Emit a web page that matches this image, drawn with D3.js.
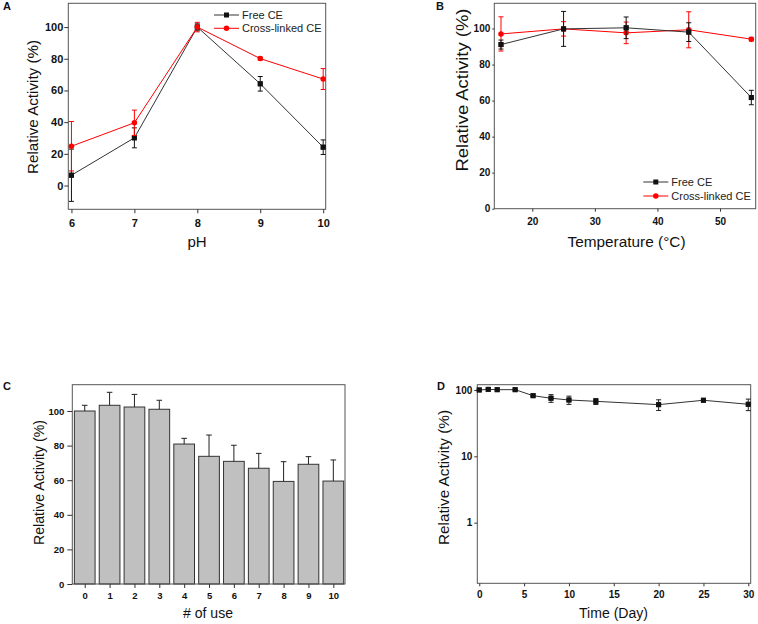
<!DOCTYPE html>
<html><head><meta charset="utf-8">
<script src="https://cdn.jsdelivr.net/npm/d3@7"></script>
<style>
html,body{margin:0;padding:0;background:#fff;}
svg{display:block;font-family:"Liberation Sans",Arial,sans-serif;}
</style></head>
<body>
<svg id="c" width="758" height="624"></svg>
<script>
// ---- Data ----
const pHs = [6, 7, 8, 9, 10];
const freePH = [6.5, 30.1, 100, 64.2, 24.2];
const freePHErr = [16.5, 6.3, 2, 4.6, 4.6];
const xlPH = [24.8, 39.6, 100, 80.1, 67.2];
const xlPHErr = [15.6, 8, 3, 1, 6.6];

const temps = [15, 25, 35, 45, 55];
const freeT = [91.1, 99.8, 100.4, 98, 61.7];
const freeTErr = [2.5, 9.7, 6, 5.2, 4];
const xlT = [97, 99.8, 97.6, 99.3, 94.1];
const xlTErr = [9.5, 4, 6, 10, 1];

const uses = [0, 1, 2, 3, 4, 5, 6, 7, 8, 9, 10];
const reuse = [100, 103.3, 102.3, 101, 80.9, 73.8, 70.9, 66.9, 59.3, 69.2, 59.5];
const reuseErr = [3.3, 7.5, 7.3, 5.2, 3.3, 12.3, 9.3, 8.6, 11.4, 4.4, 12.2];

const days = [0, 1, 2, 4, 6, 8, 10, 13, 20, 25, 30];
const storage = [100, 102, 101, 101, 82, 75, 70.6, 67.4, 60.1, 69.9, 60.8];
const storageErr = [1, 1, 1, 1, 2, 10, 10, 7, 11, 2, 12];

const seriesNames = ["Free CE", "Cross-linked CE"];
const yTicksLin = [0, 20, 40, 60, 80, 100];
const yTicksLog = [1, 10, 100];

const svg = d3.select("#c");
const FONT = '"Liberation Sans",Arial,sans-serif';
const FRAME = "#555";
const RED = "#ff0000";
const BLK = "#111";

function frame(g, x0, y0, x1, y1) {
  g.append("rect").attr("x", x0).attr("y", y0).attr("width", x1 - x0).attr("height", y1 - y0)
    .attr("fill", "none").attr("stroke", FRAME).attr("stroke-width", 1);
}
function styleAxis(sel, fs) {
  sel.select(".domain").remove();
  sel.selectAll(".tick line").attr("stroke", "#333");
  sel.selectAll(".tick text").attr("font-family", FONT).attr("font-weight", "bold")
    .attr("font-size", fs).attr("fill", "#111");
}
function errBars(g, xs, ys, es, x, y, color, cap, upperOnly) {
  xs.forEach((xv, i) => {
    const lo = upperOnly ? ys[i] : ys[i] - es[i];
    const hi = ys[i] + es[i];
    const cx = x(xv);
    g.append("line").attr("x1", cx).attr("x2", cx).attr("y1", y(lo)).attr("y2", y(hi))
      .attr("stroke", color).attr("stroke-width", 1);
    g.append("line").attr("x1", cx - cap).attr("x2", cx + cap).attr("y1", y(hi)).attr("y2", y(hi))
      .attr("stroke", color).attr("stroke-width", 1);
    if (!upperOnly) g.append("line").attr("x1", cx - cap).attr("x2", cx + cap).attr("y1", y(lo)).attr("y2", y(lo))
      .attr("stroke", color).attr("stroke-width", 1);
  });
}
function series(g, xs, ys, x, y, color, shape, sz) {
  const line = d3.line().x((d, i) => x(xs[i])).y(d => y(d));
  g.append("path").datum(ys).attr("d", line).attr("fill", "none").attr("stroke", color).attr("stroke-width", 1);
  marker(g, xs.map(x), ys.map(y), color, shape, sz);
}
function marker(g, px, py, color, shape, sz) {
  px.forEach((cx, i) => {
    if (shape === "sq") g.append("rect").attr("x", cx - sz / 2).attr("y", py[i] - sz / 2)
      .attr("width", sz).attr("height", sz).attr("fill", color);
    else g.append("circle").attr("cx", cx).attr("cy", py[i]).attr("r", sz / 2).attr("fill", color);
  });
}
function label(txt, x, y, fs, opts = {}) {
  const t = svg.append("text").attr("x", x).attr("y", y).attr("font-family", FONT)
    .attr("font-size", fs).attr("fill", "#111").text(txt);
  if (opts.bold) t.attr("font-weight", "bold");
  if (opts.anchor) t.attr("text-anchor", opts.anchor);
  if (opts.rot) t.attr("transform", `rotate(-90,${x},${y})`);
  if (opts.len) t.attr("textLength", opts.len).attr("lengthAdjust", "spacingAndGlyphs");
  return t;
}
function legend(g, x0, y0, dy, fs) {
  [[BLK, "sq"], [RED, "ci"]].forEach((s, i) => {
    const yy = y0 + i * dy;
    g.append("line").attr("x1", x0).attr("x2", x0 + 25).attr("y1", yy).attr("y2", yy)
      .attr("stroke", s[0] === BLK ? "#333" : RED).attr("stroke-width", 1);
    marker(g, [x0 + 12.5], [yy], s[0], s[1], s[1] === "sq" ? 5 : 5.5);
    g.append("text").attr("x", x0 + 28).attr("y", yy + 4).attr("font-family", FONT)
      .attr("font-size", fs).attr("fill", "#222").text(seriesNames[i]);
  });
}

// ---- Panel A ----
{
  const L = 68.3, R = 325.7, T = 3.3, B = 209.3;
  const x = d3.scaleLinear().domain([5.95, 10.04]).range([L, R]);
  const y = d3.scaleLinear().domain([-15, 115]).range([B, T]);
  const g = svg.append("g");
  frame(g, L, T, R, B);
  styleAxis(g.append("g").attr("transform", `translate(0,${B})`)
    .call(d3.axisBottom(x).tickValues(pHs).tickFormat(d3.format("d")).tickSize(4).tickPadding(6)), 11);
  styleAxis(g.append("g").attr("transform", `translate(${L},0)`)
    .call(d3.axisLeft(y).tickValues(yTicksLin).tickSize(4).tickPadding(1)), 11);
  errBars(g, pHs, freePH, freePHErr, x, y, BLK, 2.5);
  series(g, pHs, freePH, x, y, "#333", "sq", 5);
  marker(g, pHs.map(x), freePH.map(y), BLK, "sq", 5);
  errBars(g, pHs, xlPH, xlPHErr, x, y, RED, 2.5);
  series(g, pHs, xlPH, x, y, RED, "ci", 5.5);
  legend(g, 214, 15, 13.3, 11);
  label("A", 3, 10, 11, { bold: true });
  label("Relative Activity (%)", 38, 107, 15, { anchor: "middle", rot: true, len: 134 });
  label("pH", 197, 247, 15, { anchor: "middle" });
}

// ---- Panel B ----
{
  const L = 494.3, R = 755.7, T = 3.3, B = 208.7;
  const x = d3.scaleLinear().domain([13.93, 55.7]).range([L, R]);
  const y = d3.scaleLinear().domain([0, 114]).range([B, T]);
  const g = svg.append("g");
  frame(g, L, T, R, B);
  styleAxis(g.append("g").attr("transform", `translate(0,${B})`)
    .call(d3.axisBottom(x).tickValues([20, 30, 40, 50]).tickSize(3).tickPadding(6)), 10);
  styleAxis(g.append("g").attr("transform", `translate(${L},0)`)
    .call(d3.axisLeft(y).tickValues(yTicksLin).tickSize(2).tickPadding(2)), 10);
  errBars(g, temps, xlT, xlTErr, x, y, RED, 2.5);
  series(g, temps, xlT, x, y, RED, "ci", 5.5);
  errBars(g, temps, freeT, freeTErr, x, y, BLK, 2.5);
  series(g, temps, freeT, x, y, "#333", "sq", 5);
  marker(g, temps.map(x), freeT.map(y), BLK, "sq", 5);
  legend(g, 643.3, 182, 14, 11);
  label("B", 436, 10, 11, { bold: true });
  label("Relative Activity (%)", 468, 90, 17, { anchor: "middle", rot: true, len: 163 });
  label("Temperature (°C)", 626.5, 247, 15, { anchor: "middle", len: 118 });
}

// ---- Panel C ----
{
  const L = 72.3, R = 345, T = 384.7, B = 584;
  const x = d3.scaleLinear().domain([-0.5, 10.47]).range([L, R]);
  const y = d3.scaleLinear().domain([0, 115.2]).range([B, T]);
  const g = svg.append("g");
  const bw = 20.7;
  g.selectAll("rect.bar").data(reuse).join("rect").attr("class", "bar")
    .attr("x", (d, i) => x(uses[i]) - bw / 2).attr("y", d => y(d))
    .attr("width", bw).attr("height", d => B - y(d))
    .attr("fill", "#c0c0c0").attr("stroke", "#333").attr("stroke-width", 1);
  errBars(g, uses, reuse, reuseErr, x, y, "#222", 2.8, true);
  frame(g, L, T, R, B);
  styleAxis(g.append("g").attr("transform", `translate(0,${B})`)
    .call(d3.axisBottom(x).tickValues(uses).tickFormat(d3.format("d")).tickSize(4).tickPadding(4)), 9.5);
  styleAxis(g.append("g").attr("transform", `translate(${L},0)`)
    .call(d3.axisLeft(y).tickValues(yTicksLin).tickSize(5).tickPadding(3)), 9.5);
  label("C", 3, 390, 11, { bold: true });
  label("Relative Activity (%)", 44, 482.5, 14, { anchor: "middle", rot: true, len: 125 });
  label("# of use", 208, 618, 14, { anchor: "middle", len: 50 });
}

// ---- Panel D ----
{
  const L = 477.3, R = 750.7, T = 384.7, B = 583.3;
  const x = d3.scaleLinear().domain([-0.22, 30.27]).range([L, R]);
  const y = d3.scaleLog().domain([0.122, 120]).range([B, T]);
  const g = svg.append("g");
  frame(g, L, T, R, B);
  styleAxis(g.append("g").attr("transform", `translate(0,${B})`)
    .call(d3.axisBottom(x).tickValues([0, 5, 10, 15, 20, 25, 30]).tickFormat(d3.format("d")).tickSize(3).tickPadding(5)), 10);
  styleAxis(g.append("g").attr("transform", `translate(${L},0)`)
    .call(d3.axisLeft(y).tickValues(yTicksLog).tickFormat(d3.format("d")).tickSize(3).tickPadding(2)), 10);
  errBars(g, days, storage, storageErr, x, y, "#222", 2.5);
  series(g, days, storage, x, y, "#333", "sq", 5);
  marker(g, days.map(x), storage.map(y), BLK, "sq", 5);
  label("D", 437, 390, 11, { bold: true });
  label("Relative Activity (%)", 449, 477.5, 15, { anchor: "middle", rot: true, len: 135 });
  label("Time (Day)", 613.5, 618, 14, { anchor: "middle", len: 69 });
}
</script>
</body></html>
